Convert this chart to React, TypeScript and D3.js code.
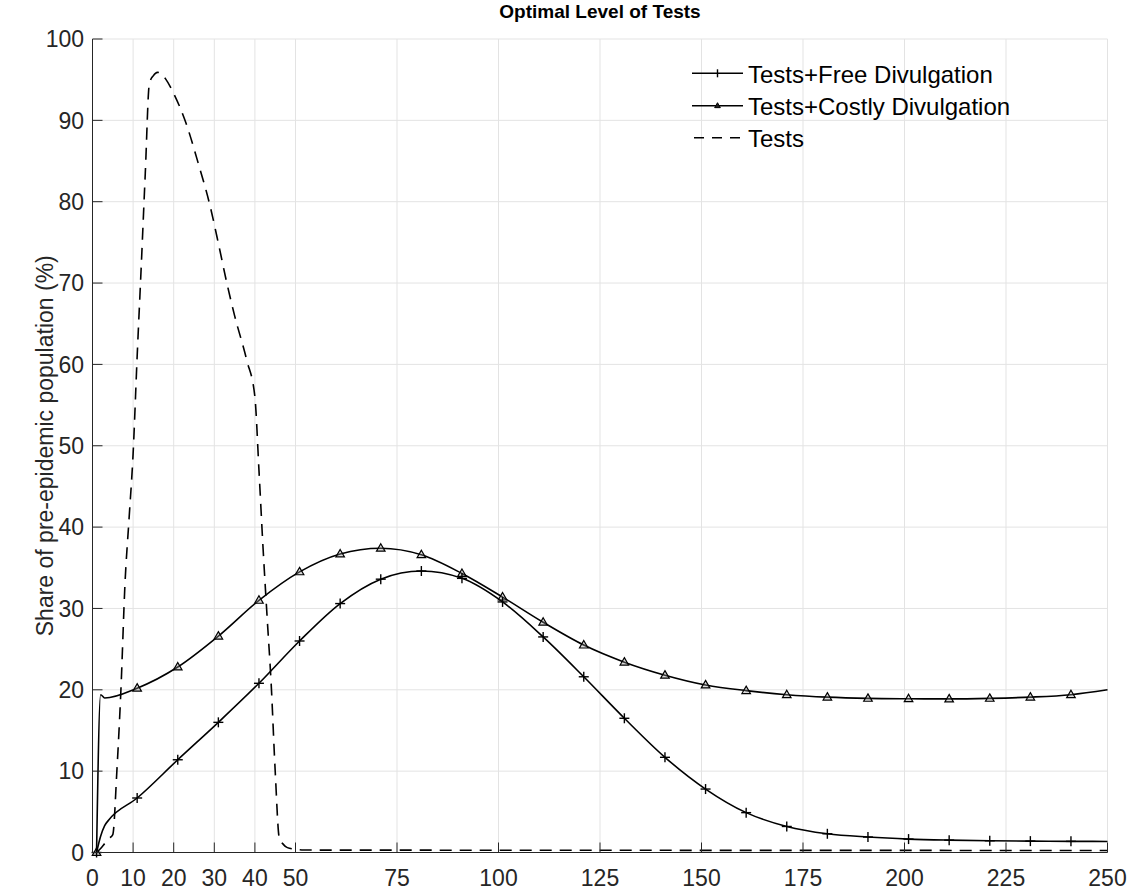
import React from "react";
import * as d3 from "d3";

const xTicks = [0, 10, 20, 30, 40, 50, 75, 100, 125, 150, 175, 200, 225, 250];
const yTicks = [0, 10, 20, 30, 40, 50, 60, 70, 80, 90, 100];

const freeX = [1, 2, 3, 4, 11, 21, 31, 41, 51, 61, 71, 81, 91, 101, 111, 121, 131, 141, 151, 161, 171, 181, 191, 201, 211, 221, 231, 241, 250];
const freeY = [0, 2.0, 3.3, 4.0, 6.7, 11.4, 16.0, 20.8, 26.0, 30.6, 33.6, 34.6, 33.7, 30.8, 26.5, 21.6, 16.5, 11.7, 7.8, 4.9, 3.2, 2.3, 1.9, 1.65, 1.52, 1.44, 1.4, 1.37, 1.36];

const costlyX = [1, 2, 3, 11, 21, 31, 41, 51, 61, 71, 81, 91, 101, 111, 121, 131, 141, 151, 161, 171, 181, 191, 201, 211, 221, 231, 241, 250];
const costlyY = [0, 19.4, 19.0, 20.2, 22.8, 26.6, 31.0, 34.5, 36.7, 37.4, 36.6, 34.3, 31.4, 28.3, 25.5, 23.4, 21.8, 20.6, 19.9, 19.4, 19.1, 18.95, 18.9, 18.88, 18.95, 19.1, 19.4, 20.0];

const testsX = [1, 2, 3, 4, 5, 6, 7, 8, 9, 10, 11, 12, 13, 14, 15, 16, 17, 18, 20, 23, 26, 29, 31, 33, 35, 38, 40, 41, 42, 43, 44, 45, 46, 47, 48, 50, 52, 250];
const testsY = [0, 0.5, 1.1, 1.7, 2.2, 10, 20, 33, 41, 49, 61, 72, 83.5, 94.5, 95.5, 95.9, 95.7, 95.1, 93.3, 89.7, 84.8, 79.4, 74.9, 70.2, 66, 60.5, 56, 47, 37.5, 29, 20.8, 10, 1.8, 1.0, 0.6, 0.4, 0.3, 0.25];

const W = 1142;
const H = 896;
const L = 92.5, R = 1107.5, T = 39, B = 852.5;
const FONT = "'Liberation Sans', Arial, Helvetica, sans-serif";
const TITLE_FONT = "'Liberation Sans Narrow', 'Arial Narrow', 'Liberation Sans', Arial, sans-serif";
const AX = "#262626";

export default function App() {
  const x = d3.scaleLinear().domain([0, 250]).range([L, R]);
  const y = d3.scaleLinear().domain([0, 100]).range([B, T]);
  const line = d3
    .line<[number, number]>()
    .x((d) => x(d[0]))
    .y((d) => y(d[1]))
    .curve(d3.curveMonotoneX);

  const free: [number, number][] = freeX.map((v, i) => [v, freeY[i]]);
  const costly: [number, number][] = costlyX.map((v, i) => [v, costlyY[i]]);
  const tests: [number, number][] = testsX.map((v, i) => [v, testsY[i]]);
  const isMarker = (d: [number, number]) => (d[0] - 1) % 10 === 0;

  const tri = (cx: number, cy: number, s: number) =>
    `M${cx},${cy - s}L${cx + s * 0.95},${cy + s * 0.65}L${cx - s * 0.95},${cy + s * 0.65}Z`;

  const legendX0 = 692, legendX1 = 743, legendText = 748;
  const legendRows = [73.3, 105.7, 137.7];

  return (
    <svg width={W} height={H} style={{ position: "absolute", left: 0, top: 0, background: "#fff" }} fontFamily={FONT}>
      <rect x={0} y={0} width={W} height={H} fill="#fff" />
      {/* grid */}
      {xTicks.map((t) => (
        <line key={"gx" + t} x1={x(t)} x2={x(t)} y1={T} y2={B} stroke="#e3e3e3" strokeWidth={1} />
      ))}
      {yTicks.map((t) => (
        <line key={"gy" + t} x1={L} x2={R} y1={y(t)} y2={y(t)} stroke="#e3e3e3" strokeWidth={1} />
      ))}
      {/* series */}
      <path d={line(tests) || ""} fill="none" stroke="#000" strokeWidth={1.6} strokeDasharray="12,8" />
      <path d={line(costly) || ""} fill="none" stroke="#000" strokeWidth={1.6} />
      <path d={line(free) || ""} fill="none" stroke="#000" strokeWidth={1.6} />
      {costly.filter(isMarker).map((d, i) => (
        <path key={"cm" + i} d={tri(x(d[0]), y(d[1]), 4.5)} fill="#9a9a9a" fillOpacity={0.35} stroke="#000" strokeWidth={1.2} />
      ))}
      {free.filter(isMarker).map((d, i) => (
        <g key={"fm" + i} stroke="#000" strokeWidth={1.4}>
          <line x1={x(d[0]) - 5} x2={x(d[0]) + 5} y1={y(d[1])} y2={y(d[1])} />
          <line x1={x(d[0])} x2={x(d[0])} y1={y(d[1]) - 5} y2={y(d[1]) + 5} />
        </g>
      ))}
      {/* axes */}
      <line x1={L} x2={L} y1={T} y2={B} stroke={AX} strokeWidth={1} />
      <line x1={L} x2={R} y1={B} y2={B} stroke={AX} strokeWidth={1} />
      {xTicks.map((t) => (
        <g key={"xt" + t}>
          <line x1={x(t)} x2={x(t)} y1={B} y2={B - 10} stroke={AX} strokeWidth={1} />
          <text x={x(t)} y={886} textAnchor="middle" fontSize={23} fill={AX}>
            {t}
          </text>
        </g>
      ))}
      {yTicks.map((t) => (
        <g key={"yt" + t}>
          <line x1={L} x2={L + 10} y1={y(t)} y2={y(t)} stroke={AX} strokeWidth={1} />
          <text x={84} y={y(t) + 8.2} textAnchor="end" fontSize={23} fill={AX}>
            {t}
          </text>
        </g>
      ))}
      <text
        transform={`translate(53,${(T + B) / 2}) rotate(-90)`}
        textAnchor="middle"
        fontSize={23}
        fill={AX}
      >
        Share of pre-epidemic population (%)
      </text>
      <text x={(L + R) / 2} y={17.5} textAnchor="middle" fontSize={19} fontWeight="bold" fill="#000" fontFamily={TITLE_FONT}>
        Optimal Level of Tests
      </text>
      {/* legend */}
      <g>
        <line x1={legendX0} x2={legendX1} y1={legendRows[0]} y2={legendRows[0]} stroke="#000" strokeWidth={1.5} />
        <line x1={(legendX0 + legendX1) / 2} x2={(legendX0 + legendX1) / 2} y1={legendRows[0] - 4} y2={legendRows[0] + 4} stroke="#000" strokeWidth={1.4} />
        <text x={legendText} y={legendRows[0] + 9.5} fontSize={24} fill="#000">Tests+Free Divulgation</text>
        <line x1={legendX0} x2={legendX1} y1={legendRows[1]} y2={legendRows[1]} stroke="#000" strokeWidth={1.5} />
        <path d={tri((legendX0 + legendX1) / 2, legendRows[1], 3)} fill="#222" stroke="#000" strokeWidth={1} />
        <text x={legendText} y={legendRows[1] + 9.5} fontSize={24} fill="#000">Tests+Costly Divulgation</text>
        <line x1={legendX0} x2={legendX1} y1={legendRows[2]} y2={legendRows[2]} stroke="#000" strokeWidth={1.5} strokeDasharray="10,8" strokeDashoffset={-2} />
        <text x={legendText} y={legendRows[2] + 9.5} fontSize={24} fill="#000">Tests</text>
      </g>
    </svg>
  );
}
